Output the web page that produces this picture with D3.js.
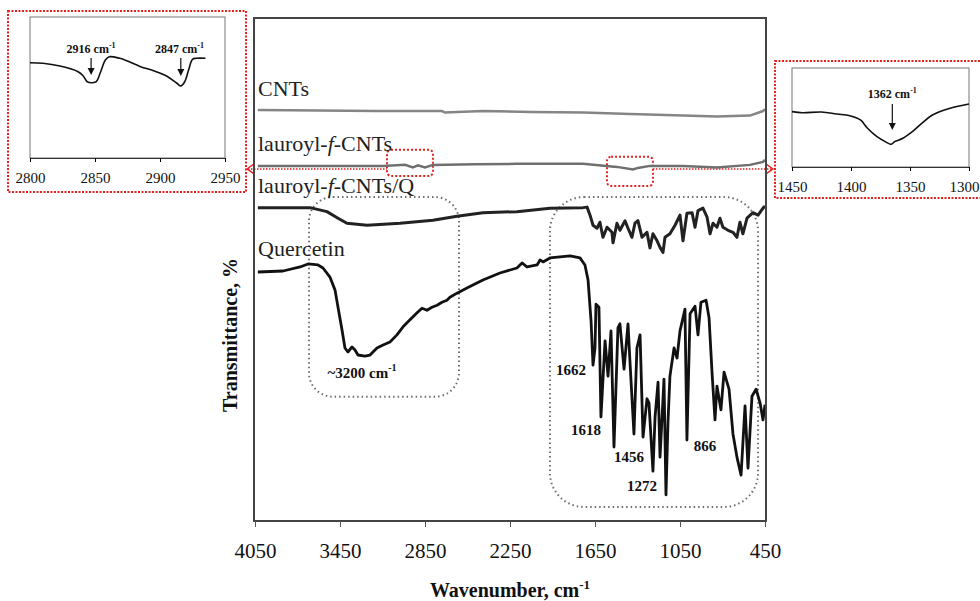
<!DOCTYPE html>
<html>
<head>
<meta charset="utf-8">
<script src="https://cdn.jsdelivr.net/npm/d3@7"></script>
<style>
body { margin: 0; background: #fff; }
text { font-family: "Liberation Serif", "Times New Roman", serif; }
</style>
</head>
<body>
<div id="chart"></div>
<script>
var width = 980,
    height = 601;

// main spectra: wavenumber (cm-1) and transmittance (offset, %)
var cntsWave = [4030, 3600, 3200, 2730, 2709, 2441, 2100, 1735, 1400, 1029, 789, 556, 464, 450];
var cntsT    = [81.7, 81.6, 81.5, 81.5, 81.2, 81.5, 81.3, 81.2, 80.9, 80.6, 80.4, 80.6, 81.5, 81.9];

var lauWave = [4030, 3600, 3146, 2991, 2935, 2900, 2850, 2794, 2500, 2201, 1735, 1495, 1382, 1347, 1262, 1029, 789, 556, 464, 450];
var lauT    = [70.6, 70.6, 70.6, 70.8, 70.3, 70.7, 70.3, 70.8, 70.9, 71.0, 71.0, 70.4, 69.9, 70.2, 70.6, 70.6, 70.3, 70.8, 71.4, 71.8];

var lqWave = [4030, 3662, 3542, 3464, 3401, 3259, 3026, 2794, 2624, 2441, 2201, 1968, 1735, 1706, 1685, 1664, 1636, 1615, 1594, 1565,
              1530, 1523, 1495, 1474, 1438, 1417, 1389, 1368, 1347, 1318, 1283, 1262, 1241, 1212, 1191, 1170, 1156, 1121, 1085, 1050,
              1029, 1001, 965, 944, 923, 888, 859, 838, 817, 789, 768, 747, 711, 676, 648, 627, 606, 577, 535, 499, 464, 450];
var lqT    = [62.3, 62.3, 61.5, 60.2, 59.2, 58.8, 59.2, 59.8, 60.6, 61.3, 61.5, 62.2, 62.3, 62.4, 60.8, 58.8, 58.2, 59.4, 56.4, 58.4,
              57.4, 55.3, 59.2, 57.8, 59.7, 58.2, 56.4, 59.2, 59.7, 56.4, 57.4, 54.3, 57.1, 55.7, 54.4, 53.4, 56.4, 57.1, 58.8, 60.8,
              55.7, 61.2, 61.3, 58.4, 61.7, 62.2, 60.4, 57.1, 59.2, 58.4, 60.2, 58.4, 57.8, 57.4, 56.4, 59.4, 57.1, 60.2, 61.3, 60.8, 62.2, 62.6];

var qWave = [4030, 3852, 3732, 3676, 3605, 3570, 3521, 3485, 3464, 3436, 3415, 3394, 3365, 3344, 3323, 3274, 3238, 3189, 3146, 3097,
             3048, 3005, 2956, 2906, 2871, 2836, 2801, 2765, 2730, 2695, 2674, 2624, 2554, 2441, 2321, 2201, 2165, 2130, 2059, 2038,
             2017, 1968, 1826, 1756, 1721, 1699, 1678, 1664, 1650, 1643, 1622, 1608, 1579, 1558, 1537, 1516, 1488, 1474, 1445, 1417,
             1403, 1375, 1354, 1332, 1311, 1283, 1269, 1241, 1226, 1205, 1191, 1163, 1149, 1135, 1121, 1092, 1071, 1050, 1015, 1001,
             979, 944, 923, 902, 866, 845, 824, 803, 789, 761, 739, 704, 676, 648, 619, 591, 570, 542, 513, 485, 464, 450];
var qT    = [49.5, 49.7, 50.5, 51.1, 50.9, 50.3, 48.5, 45.9, 42.5, 38.0, 34.4, 33.6, 34.6, 34.0, 33.0, 32.8, 33.0, 34.4, 35.0, 35.6,
             37.0, 38.6, 40.0, 41.4, 42.3, 41.9, 42.5, 42.9, 43.5, 43.9, 44.5, 45.3, 46.3, 47.9, 49.3, 50.3, 51.3, 50.5, 50.9, 51.9,
             51.5, 52.3, 52.7, 52.3, 50.9, 47.9, 39.8, 31.0, 34.4, 43.1, 42.5, 20.7, 35.8, 28.8, 37.8, 14.7, 38.4, 39.2, 30.2, 39.2,
             31.6, 17.3, 34.4, 37.0, 16.7, 24.3, 23.5, 9.9, 20.7, 27.6, 12.7, 28.2, 5.2, 19.5, 28.8, 34.4, 32.4, 37.8, 42.1, 16.1,
             41.2, 42.7, 37.0, 43.5, 43.9, 40.4, 29.6, 20.1, 26.8, 22.1, 29.6, 26.2, 17.3, 12.7, 9.1, 22.9, 10.5, 24.8, 26.2, 23.5, 20.1, 23.1];

var xTicks = [4050, 3450, 2850, 2250, 1650, 1050, 450];

// inset left (C-H stretch region)
var chWave = [2800, 2810, 2823, 2837, 2841, 2844, 2848, 2851, 2854, 2858, 2861, 2869, 2873, 2885, 2895, 2905, 2913, 2916, 2919, 2922, 2925, 2928, 2935];
var chT    = [67.6, 67.2, 65.2, 61.2, 58.2, 54.1, 53.4, 54.1, 60.3, 69.5, 71.8, 70.7, 69.5, 64.8, 61.9, 58.2, 53.0, 51.1, 54.1, 62.4, 70.0, 70.7, 70.7];
var chTicks = [2800, 2850, 2900, 2950];

// inset right (1362 band)
var nWave = [1450, 1441, 1425, 1412, 1401, 1392, 1386, 1378, 1371, 1366, 1363, 1356, 1348, 1340, 1331, 1316, 1300];
var nT    = [55.9, 54.8, 55.6, 53.5, 51.8, 47.5, 39.1, 30.6, 25.6, 22.9, 25.6, 29.0, 35.7, 44.1, 52.5, 59.3, 63.6];
var nTicks = [1450, 1400, 1350, 1300];

var seriesNames = ["CNTs", "lauroyl-", "lauroyl-", "Quercetin"];
var seriesT = [86.1, 75.1, 66.8, 54.3];

var peakText = ["1662", "1618", "1456", "1272", "866"];
var peakWave = [1819, 1714, 1410, 1318, 874];
var peakT    = [30.0, 18.1, 12.7, 7.0, 14.9];

function zip(w, t) {
  return w.map(function(d, i) { return {w: d, t: t[i]}; });
}

var svg = d3.select("#chart").append("svg")
    .attr("width", width)
    .attr("height", height);

var x = d3.scaleLinear().domain([4050, 450]).range([255, 765]);
var y = d3.scaleLinear().domain([0, 100]).range([521, 18]);

var line = d3.line()
    .x(function(d) { return x(d.w); })
    .y(function(d) { return y(d.t); });

// gray dotted rounded boxes
svg.append("rect")
    .attr("x", x(3669)).attr("y", y(64.4))
    .attr("width", x(2610) - x(3669)).attr("height", y(24.7) - y(64.4))
    .attr("rx", 24)
    .attr("fill", "none").attr("stroke", "#6e6e6e")
    .attr("stroke-width", 2).attr("stroke-dasharray", "1.5,3");

svg.append("rect")
    .attr("x", x(1968)).attr("y", y(64.4))
    .attr("width", x(499) - x(1968)).attr("height", y(2.8) - y(64.4))
    .attr("rx", 34)
    .attr("fill", "none").attr("stroke", "#6e6e6e")
    .attr("stroke-width", 2).attr("stroke-dasharray", "1.5,3");

// red zoom markers + connectors
var red = "#e3231f";
svg.append("rect")
    .attr("x", x(3118)).attr("y", y(73.8))
    .attr("width", x(2794) - x(3118)).attr("height", y(68.6) - y(73.8))
    .attr("rx", 4)
    .attr("fill", "none").attr("stroke", red).attr("stroke-width", 2).attr("stroke-dasharray", "2,2");
svg.append("rect")
    .attr("x", x(1565)).attr("y", y(72.4))
    .attr("width", x(1241) - x(1565)).attr("height", y(66.6) - y(72.4))
    .attr("rx", 4)
    .attr("fill", "none").attr("stroke", red).attr("stroke-width", 2).attr("stroke-dasharray", "2,2");

svg.append("line")
    .attr("x1", 248).attr("x2", x(3118)).attr("y1", y(70)).attr("y2", y(70))
    .attr("stroke", red).attr("stroke-width", 1.5).attr("stroke-dasharray", "1.5,1.5");
svg.append("line")
    .attr("x1", x(1241)).attr("x2", 772).attr("y1", y(70)).attr("y2", y(70))
    .attr("stroke", red).attr("stroke-width", 1.5).attr("stroke-dasharray", "1.5,1.5");
svg.append("path")
    .attr("d", "M254," + (y(70) - 5) + "L247," + y(70) + "L254," + (y(70) + 5))
    .attr("fill", "none").attr("stroke", red).attr("stroke-width", 1.3);
svg.append("path")
    .attr("d", "M766," + (y(70) - 5) + "L773," + y(70) + "L766," + (y(70) + 5))
    .attr("fill", "none").attr("stroke", red).attr("stroke-width", 1.3);

// spectra
svg.append("path").datum(zip(cntsWave, cntsT))
    .attr("d", line).attr("fill", "none").attr("stroke", "#858585").attr("stroke-width", 2.5);
svg.append("path").datum(zip(lauWave, lauT))
    .attr("d", line).attr("fill", "none").attr("stroke", "#6f6f6f").attr("stroke-width", 2.5);
svg.append("path").datum(zip(lqWave, lqT))
    .attr("d", line).attr("fill", "none").attr("stroke", "#222").attr("stroke-width", 3)
    .attr("stroke-linejoin", "round");
svg.append("path").datum(zip(qWave, qT))
    .attr("d", line).attr("fill", "none").attr("stroke", "#111").attr("stroke-width", 2.8)
    .attr("stroke-linejoin", "round");

// frame
svg.append("rect")
    .attr("x", 254).attr("y", 18).attr("width", 512).attr("height", 503)
    .attr("fill", "none").attr("stroke", "#444").attr("stroke-width", 2);

var xAxis = svg.append("g")
    .attr("transform", "translate(0,521)")
    .call(d3.axisBottom(x).tickValues(xTicks).tickFormat(d3.format("d"))
      .tickSize(6).tickSizeOuter(0).tickPadding(16));
xAxis.select(".domain").remove();
xAxis.selectAll("line").attr("stroke", "#555");
xAxis.selectAll("text")
    .attr("font-size", 21).attr("fill", "#111")
    .style("font-family", "Liberation Serif");

var xt = svg.append("text")
    .attr("x", 510).attr("y", 597)
    .attr("text-anchor", "middle")
    .attr("font-size", 20).attr("font-weight", "bold").attr("fill", "#111")
    .text("Wavenumber, cm");
xt.append("tspan").attr("dy", -8).attr("font-size", 13).text("-1");

svg.append("text")
    .attr("transform", "translate(237,335) rotate(-90)")
    .attr("text-anchor", "middle")
    .attr("font-size", 20).attr("font-weight", "bold").attr("fill", "#111")
    .text("Transmittance, %");

// series labels
seriesNames.forEach(function(n, i) {
  var t = svg.append("text")
      .attr("x", 258).attr("y", y(seriesT[i])).attr("dy", "0.35em")
      .attr("font-size", 22).attr("fill", "#222")
      .text(n);
  if (i === 1 || i === 2) {
    t.append("tspan").attr("font-style", "italic").text("f");
    t.append("tspan").text(i === 1 ? "-CNTs" : "-CNTs/Q");
  }
});

// peak labels
peakText.forEach(function(p, i) {
  svg.append("text")
      .attr("x", x(peakWave[i])).attr("y", y(peakT[i])).attr("dy", "0.35em")
      .attr("text-anchor", "middle")
      .attr("font-size", 15).attr("font-weight", "bold").attr("fill", "#111")
      .text(p);
});
var oh = svg.append("text")
    .attr("x", x(3295)).attr("y", y(29.4)).attr("dy", "0.35em")
    .attr("text-anchor", "middle")
    .attr("font-size", 15).attr("font-weight", "bold").attr("fill", "#111")
    .text("~3200 cm");
oh.append("tspan").attr("dy", -7).attr("font-size", 10).text("-1");

function arrow(g, xp, y1, y2) {
  g.append("line").attr("x1", xp).attr("x2", xp).attr("y1", y1).attr("y2", y2 - 5)
      .attr("stroke", "#111").attr("stroke-width", 1.2);
  g.append("path")
      .attr("d", "M" + (xp - 3.5) + "," + (y2 - 7) + "L" + xp + "," + y2 + "L" + (xp + 3.5) + "," + (y2 - 7) + "Z")
      .attr("fill", "#111");
}

function annot(g, xp, yp, txt) {
  var t = g.append("text")
      .attr("x", xp).attr("y", yp)
      .attr("text-anchor", "middle")
      .attr("font-size", 12).attr("font-weight", "bold").attr("fill", "#111")
      .text(txt);
  t.append("tspan").attr("dy", -5).attr("font-size", 8).text("-1");
}

// left inset
var gl = svg.append("g");
gl.append("rect")
    .attr("x", 8).attr("y", 11).attr("width", 238).attr("height", 181)
    .attr("fill", "none").attr("stroke", red).attr("stroke-width", 2).attr("stroke-dasharray", "2,1.5");
var lx = d3.scaleLinear().domain([2800, 2950]).range([30, 225]);
var ly = d3.scaleLinear().domain([0, 100]).range([158, 17]);
gl.append("rect")
    .attr("x", 30).attr("y", 17).attr("width", 195).attr("height", 141)
    .attr("fill", "none").attr("stroke", "#777").attr("stroke-width", 1);
var lAxis = gl.append("g")
    .attr("transform", "translate(0,158)")
    .call(d3.axisBottom(lx).tickValues(chTicks).tickFormat(d3.format("d"))
      .tickSize(4).tickSizeOuter(0).tickPadding(10));
lAxis.select(".domain").attr("stroke", "#333");
lAxis.selectAll("text").attr("font-size", 15).attr("fill", "#111").style("font-family", "Liberation Serif");
gl.append("path").datum(zip(chWave, chT))
    .attr("d", d3.line().x(function(d) { return lx(d.w); }).y(function(d) { return ly(d.t); }).curve(d3.curveCatmullRom))
    .attr("fill", "none").attr("stroke", "#111").attr("stroke-width", 1.6);
annot(gl, lx(2847), 53, "2916 cm");
arrow(gl, lx(2847), 58, 75);
annot(gl, lx(2915), 53, "2847 cm");
arrow(gl, lx(2916), 58, 76);

// right inset
var gr = svg.append("g");
gr.append("rect")
    .attr("x", 775).attr("y", 61).attr("width", 215).attr("height", 137)
    .attr("fill", "none").attr("stroke", red).attr("stroke-width", 2).attr("stroke-dasharray", "2,1.5");
var rx = d3.scaleLinear().domain([1450, 1300]).range([792, 969]);
var ry = d3.scaleLinear().domain([0, 100]).range([167, 68]);
gr.append("rect")
    .attr("x", 792).attr("y", 68).attr("width", 177).attr("height", 99)
    .attr("fill", "none").attr("stroke", "#777").attr("stroke-width", 1);
var rAxis = gr.append("g")
    .attr("transform", "translate(0,167)")
    .call(d3.axisBottom(rx).tickValues(nTicks).tickFormat(d3.format("d"))
      .tickSize(4).tickSizeOuter(0).tickPadding(10));
rAxis.select(".domain").attr("stroke", "#333");
rAxis.selectAll("text").attr("font-size", 15).attr("fill", "#111").style("font-family", "Liberation Serif");
// last label would run off the page edge: keep it inside
rAxis.selectAll(".tick").filter(function(d) { return d === 1300; })
    .select("text").attr("text-anchor", "end").attr("x", 10);
gr.append("path").datum(zip(nWave, nT))
    .attr("d", d3.line().x(function(d) { return rx(d.w); }).y(function(d) { return ry(d.t); }).curve(d3.curveCatmullRom))
    .attr("fill", "none").attr("stroke", "#111").attr("stroke-width", 1.6);
annot(gr, rx(1365), 98, "1362 cm");
arrow(gr, rx(1365), 104, 130);
</script>
</body>
</html>
